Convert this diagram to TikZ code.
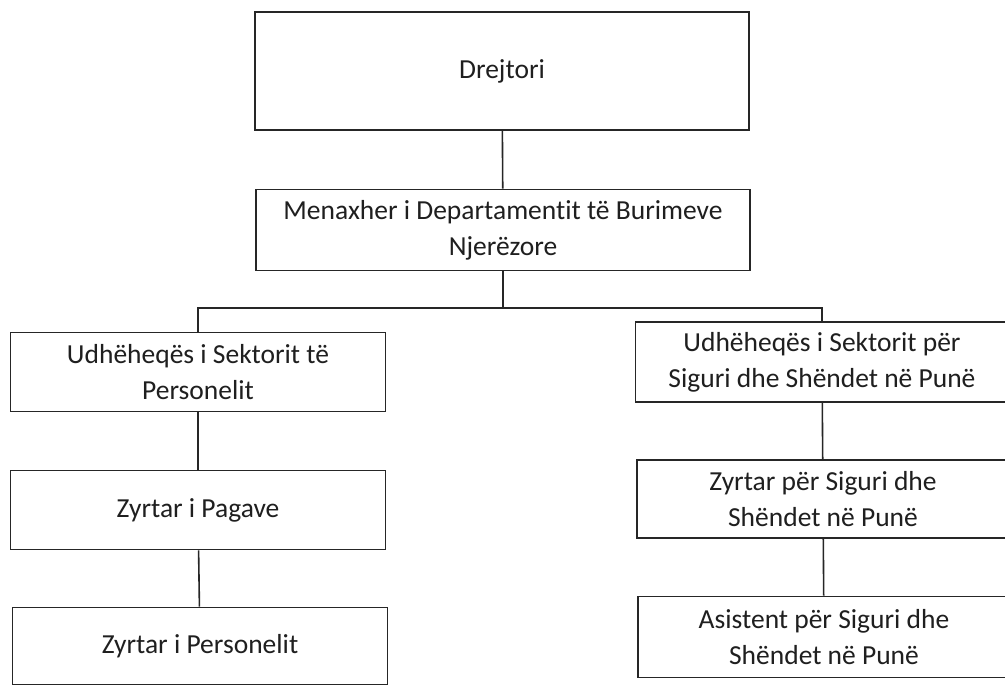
\documentclass[tikz,border=0pt]{standalone}
\usepackage{fontspec}
\setmainfont{Carlito}[Ligatures={NoCommon}]
\begin{document}
\begin{tikzpicture}[x=1pt, y=-1pt,
  orgbox/.style={draw=black!85, line width=1.6pt, rectangle, align=center,
    inner sep=0pt, font=\fontsize{27.5}{36}\selectfont, text=black!88},
  link/.style={draw=black!85, line width=1.6pt}]
  \fill[white] (0,0) rectangle (1005,685);
  \useasboundingbox (0,0) rectangle (1005,685);

  % top of the chart
  \node[orgbox, minimum width=494pt, minimum height=118pt] (dir) at (502,71) {Drejtori};
  \node[orgbox, minimum width=494pt, minimum height=81pt] (men) at (503,230)
    {Menaxher i Departamentit të Burimeve\\Njerëzore};

  % personnel branch
  \node[orgbox, minimum width=375pt, minimum height=79pt] (ul) at (198,372)
    {Udhëheqës i Sektorit të\\Personelit};
  \node[orgbox, minimum width=375pt, minimum height=79pt] (zp) at (198,510)
    {Zyrtar i Pagave};
  \node[orgbox, minimum width=375pt, minimum height=77pt] (zpe) at (200,646)
    {Zyrtar i Personelit};

  % safety and health branch
  \node[orgbox, minimum width=373pt, minimum height=80pt] (ur) at (822,362)
    {Udhëheqës i Sektorit për\\Siguri dhe Shëndet në Punë};
  \node[orgbox, minimum width=372pt, minimum height=78pt] (zs) at (823,499)
    {Zyrtar për Siguri dhe\\Shëndet në Punë};
  \node[orgbox, minimum width=372pt, minimum height=81pt] (as) at (824,637)
    {Asistent për Siguri dhe\\Shëndet në Punë};

  % connectors
  \coordinate (bar) at (503,308);
  \draw[link] (dir) -- (men);
  \draw[link] (men) -- (bar);
  \draw[link] (ul.north) |- (bar) -| (ur.north);
  \draw[link] (ul) -- (zp);
  \draw[link] (zp) -- (zpe);
  \draw[link] (ur) -- (zs);
  \draw[link] (zs) -- (as);
\end{tikzpicture}
\end{document}
